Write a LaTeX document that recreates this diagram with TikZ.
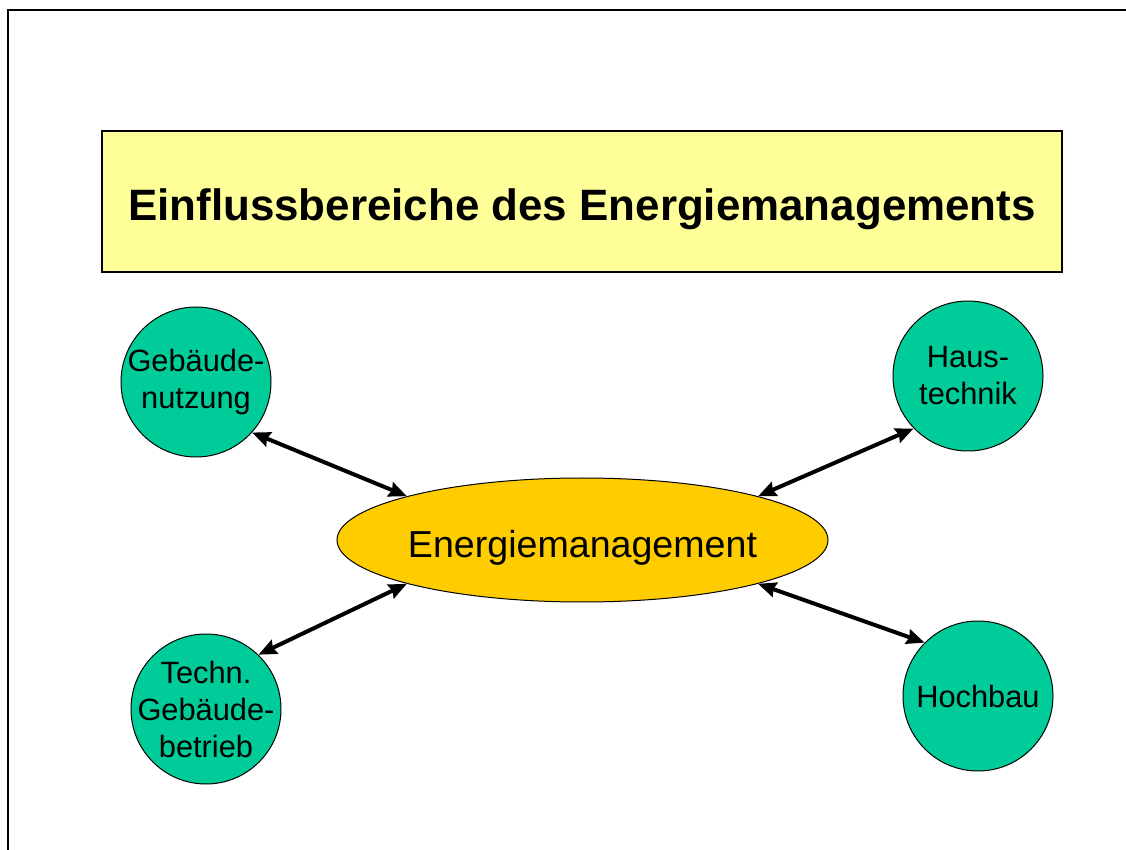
\documentclass[tikz,border=0pt]{standalone}
\usepackage{fontspec}
\setmainfont{Liberation Sans}
\usepackage{xcolor}
\usepackage{tikz}
\usetikzlibrary{arrows.meta,shapes.geometric}

\definecolor{titlefill}{HTML}{FFFF99}
\definecolor{hubfill}{HTML}{00CC99}
\definecolor{corefill}{HTML}{FFCC00}

\begin{document}
\begin{tikzpicture}[x=0.5pt, y=-0.5pt,
    area/.style={circle, draw=black, line width=0.5pt, fill=hubfill,
        inner sep=0pt, minimum size=75pt},
    areatext/.style={align=center, font=\fontsize{15.4}{18.5}\selectfont},
    link/.style={{Stealth[length=9pt,width=7.5pt,inset=1pt]}-{Stealth[length=9pt,width=7.5pt,inset=1pt]},
        line width=2pt}]
    \useasboundingbox (0,0) rectangle (1126,850);

    % Page frame (only left and top edges are on the sheet)
    \draw[line width=1.25pt] (8,850) -- (8,10) -- (1126,10);

    % Title box
    \node[draw=black, line width=1pt, fill=titlefill, minimum width=480pt,
        minimum height=70.5pt, inner sep=0pt] (title) at (582,201.5) {};
    \node[font=\fontsize{21.95}{26}\selectfont\bfseries, inner sep=0pt]
        (titletext) at ([yshift=-4pt]title.center) {Einflussbereiche des Energiemanagements};

    % Central ellipse
    \node[ellipse, draw=black, line width=0.5pt, fill=corefill, inner sep=0pt,
        minimum width=245.5pt, minimum height=62pt,
        label={[font=\fontsize{18.8}{22}\selectfont, yshift=-4pt]center:Energiemanagement}]
        (em) at (582.5,540) {};

    % Areas of influence
    \node[area, label={[areatext]center:Gebäude-\\nutzung}] (gn) at (196,382) {};
    \node[area, label={[areatext]center:Haus-\\technik}] (ht) at (968,376) {};
    \node[area, label={[areatext]center:Techn.\\Gebäude-\\betrieb}] (tg) at (206,709) {};
    \node[area, label={[areatext]center:Hochbau}] (hb) at (978,696) {};

    % Double arrows to the centre
    \draw[link] (gn.-42) -- (em.166);
    \draw[link] (ht.224.5) -- (em.14);
    \draw[link] (tg.46.5) -- (em.194);
    \draw[link] (hb.135.5) -- (em.-14);
\end{tikzpicture}
\end{document}
